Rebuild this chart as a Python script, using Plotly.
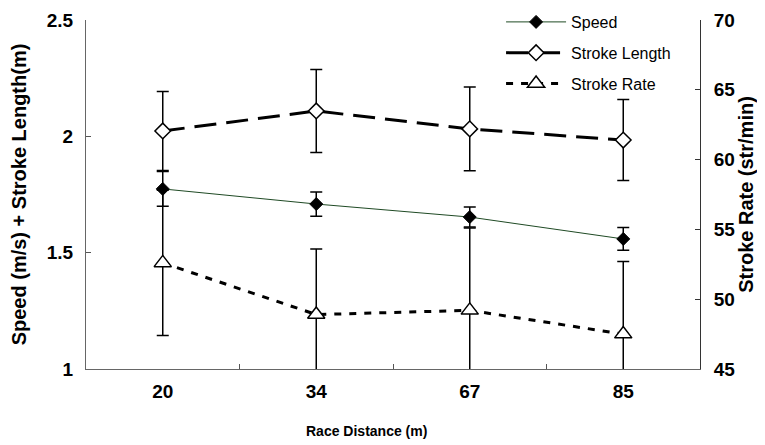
import plotly.graph_objects as go

distances = ["20", "34", "67", "85"]
speed = [1.774, 1.709, 1.653, 1.559]
speed_sd = [0.075, 0.052, 0.043, 0.049]
stroke_length = [2.023, 2.109, 2.032, 1.984]
stroke_length_sd = [0.170, 0.178, 0.180, 0.174]
stroke_rate = [52.6, 48.9, 49.2, 47.5]
stroke_rate_sd = [5.2, 4.7, 5.9, 5.2]

FONT = "Liberation Sans, Arial, sans-serif"

fig = go.Figure()

fig.add_trace(go.Scatter(
    x=distances, y=speed, name="Speed", mode="lines+markers",
    line=dict(color="#1f4a24", width=1),
    marker=dict(symbol="diamond", size=10, color="black", line=dict(color="black", width=1)),
    error_y=dict(type="data", array=speed_sd, visible=True, color="black", thickness=1.5, width=6),
    legendgroup="a",
))
fig.add_trace(go.Scatter(
    x=distances, y=stroke_length, name="Stroke Length", mode="lines+markers",
    line=dict(color="black", width=3, dash="22px,10px"),
    marker=dict(symbol="diamond", size=12, color="white", line=dict(color="black", width=1.5)),
    error_y=dict(type="data", array=stroke_length_sd, visible=True, color="black", thickness=1.5, width=6),
    legendgroup="b",
))
fig.add_trace(go.Scatter(
    x=distances, y=stroke_rate, name="Stroke Rate", mode="lines+markers", yaxis="y2",
    line=dict(color="black", width=3, dash="7px,8px"),
    marker=dict(symbol="triangle-up", size=15, color="white", line=dict(color="black", width=1.5)),
    error_y=dict(type="data", array=stroke_rate_sd, visible=True, color="black", thickness=1.5, width=6),
    legendgroup="c",
))

tick_font = dict(family=FONT, size=19, color="black", weight="bold")

# page body has an 8px margin, so the figure is sized/offset to compensate
fig.update_layout(
    width=757, height=437,
    margin=dict(l=78, r=65, t=12, b=76, autoexpand=False),
    paper_bgcolor="white", plot_bgcolor="white",
    font=dict(family=FONT, color="black"),
    showlegend=True,
    legend=dict(
        x=0.676, y=1.043, xanchor="left", yanchor="top",
        font=dict(family=FONT, size=16, color="black"),
        bgcolor="rgba(0,0,0,0)", itemwidth=60, tracegroupgap=7,
    ),
    xaxis=dict(
        type="category", categoryorder="array", categoryarray=distances,
        range=[-0.5, 3.5], tickson="boundaries", ticks="inside", ticklen=5,
        tickcolor="#555", showline=True, linecolor="#666", linewidth=1,
        showgrid=False, zeroline=False, tickfont=tick_font,
        ticklabelstandoff=5,
    ),
    yaxis=dict(
        range=[1, 2.5], tickvals=[1, 1.5, 2, 2.5], ticktext=["1", "1.5", "2", "2.5"],
        ticks="inside", ticklen=5, tickcolor="#555",
        showline=True, linecolor="#666", linewidth=1, showgrid=False, zeroline=False,
        tickfont=tick_font, ticklabelstandoff=8,
        title=dict(text="<b>Speed (m/s) + Stroke Length(m)</b>",
                   font=dict(family=FONT, size=20, color="black"), standoff=14),
    ),
    yaxis2=dict(
        range=[45, 70], dtick=5, overlaying="y", side="right",
        ticks="inside", ticklen=5, tickcolor="#333",
        showline=True, linecolor="#333", linewidth=1, showgrid=False, zeroline=False,
        tickfont=tick_font, ticklabelstandoff=9,
        title=dict(text="<b>Stroke Rate (str/min)</b>",
                   font=dict(family=FONT, size=20, color="black"), standoff=3),
    ),
    annotations=[dict(
        text="<b>Race Distance (m)</b>", xref="paper", yref="paper",
        x=0.457, y=-0.148, xanchor="center", yanchor="top", showarrow=False,
        font=dict(family=FONT, size=14, color="black"),
    )],
)

fig.write_html("out.html")
